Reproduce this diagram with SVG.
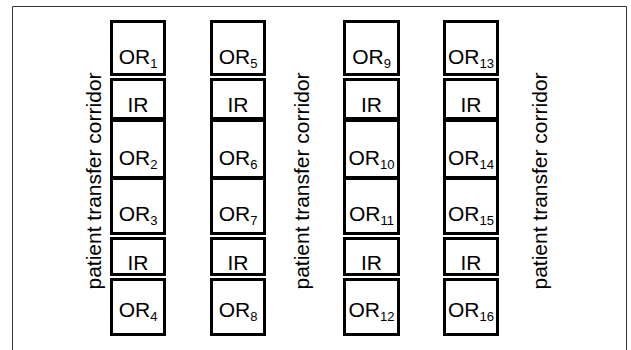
<svg xmlns="http://www.w3.org/2000/svg" width="631" height="350" viewBox="0 0 631 350">
  <style>
    .room { fill: #ffffff; stroke: #000000; stroke-width: 3; }
    .lbl { font-family: "Liberation Sans", Arial, sans-serif; font-size: 21px; fill: #000000; text-anchor: middle; }
    .sub { font-size: 13px; }
    .corr { font-family: "Liberation Sans", Arial, sans-serif; font-size: 21px; fill: #000000; text-anchor: middle; }
  </style>
  <rect x="0" y="0" width="631" height="350" fill="#ffffff"/>
  <!-- building outline, open at the bottom -->
  <path d="M12.5,350 V6.5 H626.5 V350" fill="none" stroke="#333333" stroke-width="1"/>

  <!-- corridors -->
  <g id="corridor-left"><text class="corr" transform="translate(101,181) rotate(-90)">patient transfer corridor</text></g>
  <g id="corridor-middle"><text class="corr" transform="translate(309,181) rotate(-90)">patient transfer corridor</text></g>
  <g id="corridor-right"><text class="corr" transform="translate(547,181) rotate(-90)">patient transfer corridor</text></g>

  <!-- column 1 -->
  <g id="or1"><rect class="room" x="111.5" y="21.5" width="53" height="53"/><text class="lbl" x="138" y="64">OR<tspan class="sub" dy="4">1</tspan></text></g>
  <g id="ir1"><rect class="room" x="111.5" y="79.5" width="53" height="39"/><text class="lbl" x="138" y="112">IR</text></g>
  <g id="or2"><rect class="room" x="111.5" y="120.5" width="53" height="57"/><text class="lbl" x="138" y="165">OR<tspan class="sub" dy="4">2</tspan></text></g>
  <g id="or3"><rect class="room" x="111.5" y="178.5" width="53" height="55"/><text class="lbl" x="138" y="221">OR<tspan class="sub" dy="4">3</tspan></text></g>
  <g id="ir2"><rect class="room" x="111.5" y="238.5" width="53" height="36"/><text class="lbl" x="138" y="270">IR</text></g>
  <g id="or4"><rect class="room" x="111.5" y="279.5" width="53" height="55"/><text class="lbl" x="138" y="317">OR<tspan class="sub" dy="4">4</tspan></text></g>

  <!-- column 2 -->
  <g id="or5"><rect class="room" x="211.5" y="21.5" width="53" height="53"/><text class="lbl" x="238" y="64">OR<tspan class="sub" dy="4">5</tspan></text></g>
  <g id="ir3"><rect class="room" x="211.5" y="79.5" width="53" height="39"/><text class="lbl" x="238" y="112">IR</text></g>
  <g id="or6"><rect class="room" x="211.5" y="120.5" width="53" height="57"/><text class="lbl" x="238" y="165">OR<tspan class="sub" dy="4">6</tspan></text></g>
  <g id="or7"><rect class="room" x="211.5" y="178.5" width="53" height="55"/><text class="lbl" x="238" y="221">OR<tspan class="sub" dy="4">7</tspan></text></g>
  <g id="ir4"><rect class="room" x="211.5" y="238.5" width="53" height="36"/><text class="lbl" x="238" y="270">IR</text></g>
  <g id="or8"><rect class="room" x="211.5" y="279.5" width="53" height="55"/><text class="lbl" x="238" y="317">OR<tspan class="sub" dy="4">8</tspan></text></g>

  <!-- column 3 -->
  <g id="or9"><rect class="room" x="344.5" y="21.5" width="54" height="53"/><text class="lbl" x="371.5" y="64">OR<tspan class="sub" dy="4">9</tspan></text></g>
  <g id="ir5"><rect class="room" x="344.5" y="79.5" width="54" height="39"/><text class="lbl" x="371.5" y="112">IR</text></g>
  <g id="or10"><rect class="room" x="344.5" y="120.5" width="54" height="57"/><text class="lbl" x="371.5" y="165">OR<tspan class="sub" dy="4">10</tspan></text></g>
  <g id="or11"><rect class="room" x="344.5" y="178.5" width="54" height="55"/><text class="lbl" x="371.5" y="221">OR<tspan class="sub" dy="4">11</tspan></text></g>
  <g id="ir6"><rect class="room" x="344.5" y="238.5" width="54" height="36"/><text class="lbl" x="371.5" y="270">IR</text></g>
  <g id="or12"><rect class="room" x="344.5" y="279.5" width="54" height="55"/><text class="lbl" x="371.5" y="317">OR<tspan class="sub" dy="4">12</tspan></text></g>

  <!-- column 4 -->
  <g id="or13"><rect class="room" x="444.5" y="21.5" width="53" height="53"/><text class="lbl" x="471" y="64">OR<tspan class="sub" dy="4">13</tspan></text></g>
  <g id="ir7"><rect class="room" x="444.5" y="79.5" width="53" height="39"/><text class="lbl" x="471" y="112">IR</text></g>
  <g id="or14"><rect class="room" x="444.5" y="120.5" width="53" height="57"/><text class="lbl" x="471" y="165">OR<tspan class="sub" dy="4">14</tspan></text></g>
  <g id="or15"><rect class="room" x="444.5" y="178.5" width="53" height="55"/><text class="lbl" x="471" y="221">OR<tspan class="sub" dy="4">15</tspan></text></g>
  <g id="ir8"><rect class="room" x="444.5" y="238.5" width="53" height="36"/><text class="lbl" x="471" y="270">IR</text></g>
  <g id="or16"><rect class="room" x="444.5" y="279.5" width="53" height="55"/><text class="lbl" x="471" y="317">OR<tspan class="sub" dy="4">16</tspan></text></g>
</svg>
